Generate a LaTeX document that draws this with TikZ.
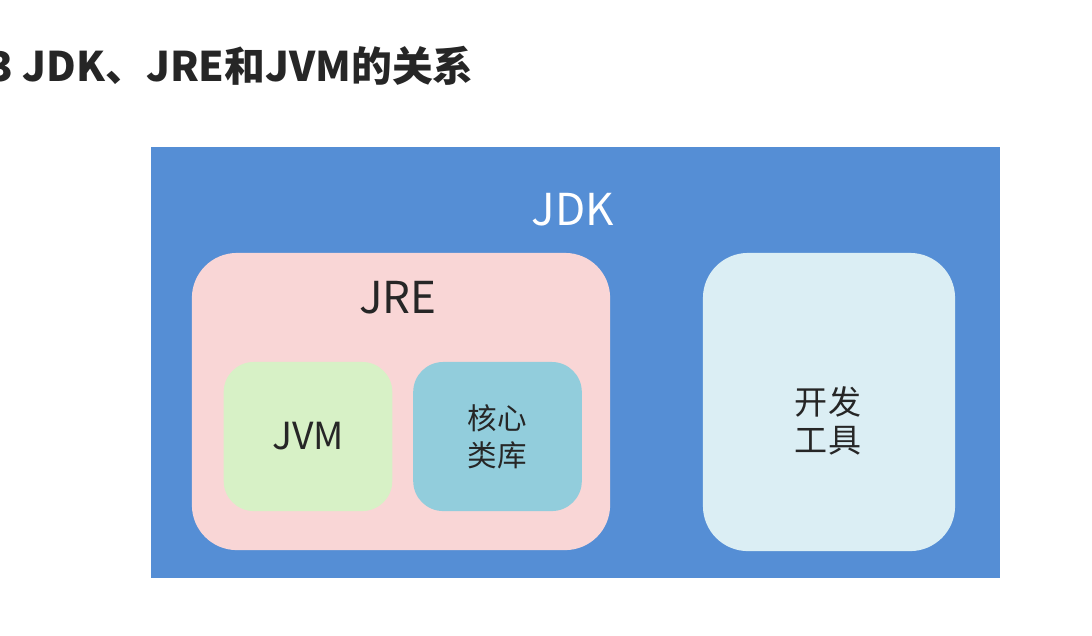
\documentclass[tikz,border=0pt]{standalone}
\usepackage{fontspec}
\setmainfont{Noto Sans CJK SC}
\usepackage{tikz}
\usetikzlibrary{positioning}
\usepackage{xcolor}

\definecolor{jdkblue}{RGB}{85,142,213}
\definecolor{jrepink}{RGB}{249,214,214}
\definecolor{jvmgreen}{RGB}{215,241,198}
\definecolor{libblue}{RGB}{146,205,220}
\definecolor{toolblue}{RGB}{219,238,244}
\definecolor{textgray}{RGB}{38,38,38}

\begin{document}
\begin{tikzpicture}[
    x=0.01cm, y=-0.01cm,
    outer/.style={fill=jdkblue, rectangle, minimum width=8.49cm, minimum height=4.31cm, inner sep=0pt},
    group/.style={rectangle, rounded corners=0.45cm, inner sep=0pt},
    part/.style={rectangle, rounded corners=0.3cm, minimum width=1.685cm, minimum height=1.49cm, inner sep=0pt, align=center, text=textgray},
    caption/.style={font=\fontsize{12.5}{15}\selectfont, inner sep=0pt, align=center}
]
    \useasboundingbox (0,0) rectangle (1092,635);
    \clip (0,0) rectangle (1092,635);

    % Title
    \node (title) [anchor=west, inner sep=0pt, text=textgray, font=\fontsize{11.6}{14}\selectfont\bfseries] at (-12,66) {3 JDK、JRE和JVM的关系};

    % Draw nodes
    \node (jdk) [outer] at (575.5,362.5) {};
    \node (jdklabel) [caption, text=white] at (573,210) {JDK};
    \node (jre) [group, fill=jrepink, minimum width=4.18cm, minimum height=2.97cm] at (401,401.5) {};
    \node (jrelabel) [caption, text=textgray] at (398,298) {JRE};
    \node (jvm) [part, fill=jvmgreen, font=\fontsize{10.6}{12}\selectfont] at (308,436.5) {JVM};
    \node (lib) [part, fill=libblue, font=\fontsize{8.4}{10.5}\selectfont] at (497.5,436.5) {核心\\类库};
    \node (tools) [group, fill=toolblue, minimum width=2.52cm, minimum height=2.98cm] at (829,402) {};
    \node (toolslabel) [caption, text=textgray, font=\fontsize{9.4}{10.8}\selectfont] at (828,421) {开发\\工具};

\end{tikzpicture}
\end{document}
